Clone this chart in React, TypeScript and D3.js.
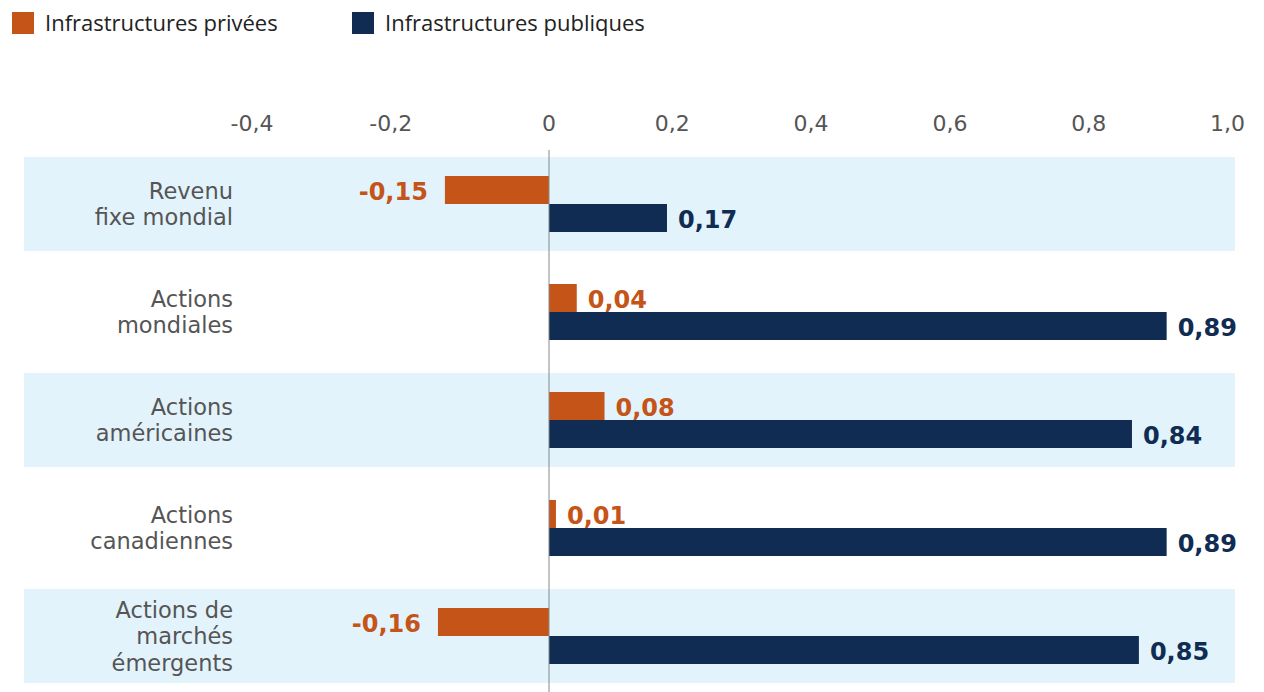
import React from "react";
import * as d3 from "d3";

const categories = [
  "Revenu\nfixe mondial",
  "Actions\nmondiales",
  "Actions\naméricaines",
  "Actions\ncanadiennes",
  "Actions de\nmarchés\némergents",
];
const privateValues = [-0.15, 0.04, 0.08, 0.01, -0.16];
const publicValues = [0.17, 0.89, 0.84, 0.89, 0.85];
const xTicks = [-0.4, -0.2, 0, 0.2, 0.4, 0.6, 0.8, 1.0];
const seriesNames = ["Infrastructures privées", "Infrastructures publiques"];

const W = 1264;
const H = 692;
const ORANGE = "#C55419";
const NAVY = "#102C52";
const BAND = "#E2F3FC";
const FONT = "'Open Sans', sans-serif";
const FONT2 = "'DejaVu Sans', sans-serif";

const locale = d3.formatLocale({
  decimal: ",",
  thousands: " ",
  grouping: [3],
  currency: ["", " €"],
  minus: "-",
});
const fmtTick = locale.format(".1f");
const fmtVal = locale.format(".2f");

export default function App() {
  const x = d3.scaleLinear().domain([0, 1]).range([549, 1243]);
  const y = d3
    .scaleBand<string>()
    .domain(categories)
    .range([150, 690])
    .paddingInner(0.13)
    .paddingOuter(0.065);
  const bw = y.bandwidth();
  const barH = 28;
  const ySeries = d3
    .scaleBand<string>()
    .domain(seriesNames)
    .range([(bw - 2 * barH) / 2, (bw + 2 * barH) / 2]);

  const colors = [ORANGE, NAVY];
  const series = [privateValues, publicValues];

  return (
    <svg
      width={W}
      height={H}
      style={{ position: "absolute", left: 0, top: 0, background: "#fff" }}
    >
      {/* legend */}
      {seriesNames.map((s, i) => {
        const lx = i === 0 ? 12 : 352;
        return (
          <g key={s}>
            <rect x={lx} y={12} width={22} height={22} fill={colors[i]} />
            <text
              x={lx + 33}
              y={31}
              fontFamily={FONT}
              fontSize={22}
              fill="#222"
            >
              {s}
            </text>
          </g>
        );
      })}

      {/* axis tick labels */}
      {xTicks.map((t) => (
        <text
          key={t}
          x={t === 0 ? x(t) : x(t) + 2}
          y={131}
          textAnchor={t === 0 ? "middle" : "end"}
          fontFamily={FONT2}
          fontSize={22}
          fill="#555"
        >
          {t === 0 ? "0" : fmtTick(t)}
        </text>
      ))}

      {/* bands */}
      {categories.map((c, i) =>
        i % 2 === 0 ? (
          <rect
            key={c}
            x={24}
            y={y(c)}
            width={1235 - 24}
            height={bw}
            fill={BAND}
          />
        ) : null
      )}

      {/* category labels */}
      {categories.map((c) => {
        const lines = c.split("\n");
        const cy = (y(c) as number) + bw / 2;
        const lh = 26.5;
        return (
          <g key={c}>
            {lines.map((l, j) => (
              <text
                key={j}
                x={233}
                y={cy + (j - (lines.length - 1) / 2) * lh + 8}
                textAnchor="end"
                fontFamily={FONT2}
                fontSize={22.5}
                fill="#555"
              >
                {l}
              </text>
            ))}
          </g>
        );
      })}

      {/* bars */}
      {categories.map((c, i) =>
        series.map((vals, s) => {
          const v = vals[i];
          const by = (y(c) as number) + (ySeries(seriesNames[s]) as number);
          const x0 = Math.min(x(0), x(v));
          const w = Math.abs(x(v) - x(0));
          const neg = v < 0;
          return (
            <g key={c + s}>
              <rect x={x0} y={by} width={w} height={barH} fill={colors[s]} />
              <text
                x={neg ? x(v) - 17 : x(v) + 11}
                y={by + barH / 2 + 10}
                textAnchor={neg ? "end" : "start"}
                fontFamily={FONT2}
                fontWeight={700}
                fontSize={24}
                fill={colors[s]}
              >
                {fmtVal(v)}
              </text>
            </g>
          );
        })
      )}

      {/* zero line */}
      <line x1={x(0)} x2={x(0)} y1={150} y2={H} stroke="#888" strokeWidth={1} />
    </svg>
  );
}
